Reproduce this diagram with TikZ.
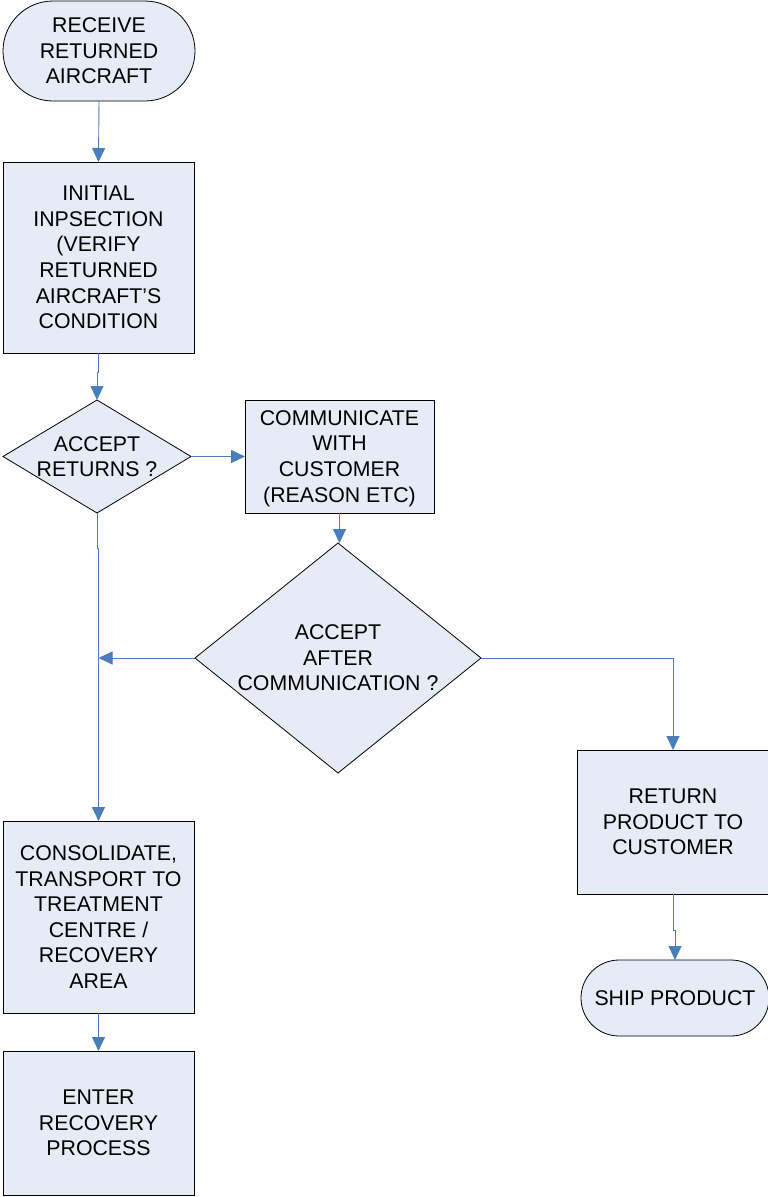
\documentclass[tikz,border=0pt]{standalone}
\usepackage{fontspec}
\setmainfont{Liberation Sans}
\usetikzlibrary{arrows.meta,shapes.geometric}
\definecolor{boxfill}{RGB}{230,236,246}
\definecolor{flowline}{RGB}{74,126,187}
\begin{document}
\begin{tikzpicture}[x=1pt,y=-1pt,
  shapebase/.style={draw=black,line width=0.8pt,fill=boxfill,inner sep=0pt,outer sep=0pt},
  stepbox/.style={shapebase,rectangle,minimum width=#1},
  terminal/.style={shapebase,rectangle,rounded corners=36pt},
  decision/.style={shapebase,diamond},
  label/.style={align=center,inner sep=0pt,font=\fontsize{21.3}{25.6}\selectfont},
  flow/.style={draw=flowline,line width=0.9pt,-{Triangle[length=14pt,width=13pt]}},
  plain/.style={draw=flowline,line width=0.9pt}]
\useasboundingbox (0,0) rectangle (768,1197);

% start terminator
\node[terminal,minimum width=192pt,minimum height=100pt,rounded corners=50pt] (start) at (99,51) {};
\node[label] at (start) {RECEIVE\\RETURNED\\AIRCRAFT};

% initial inspection
\node[stepbox=191pt,minimum height=191pt] (inspect) at (98.5,257.5) {};
\node[label] at (inspect) {INITIAL\\INPSECTION\\(VERIFY\\RETURNED\\AIRCRAFT’S\\CONDITION};

% first decision
\node[decision,minimum width=188pt,minimum height=113pt] (accept) at (97,456.5) {};
\node[label] at (accept) {ACCEPT\\RETURNS ?};

% communicate with customer
\node[stepbox=189pt,minimum height=113pt] (comm) at (339.5,456.5) {};
\node[label] at ([yshift=-2pt]comm.center) {COMMUNICATE\\WITH\\CUSTOMER\\(REASON ETC)};

% second decision
\node[decision,minimum width=286pt,minimum height=230pt] (after) at (338,658) {};
\node[label] at (after) {ACCEPT\\AFTER\\COMMUNICATION ?};

% consolidate
\node[stepbox=191pt,minimum height=192pt] (consol) at (98.5,917) {};
\node[label] at (consol) {CONSOLIDATE,\\TRANSPORT TO\\TREATMENT\\CENTRE /\\RECOVERY\\AREA};

% enter recovery
\node[stepbox=191pt,minimum height=144pt] (recov) at (98.5,1123) {};
\node[label] at (recov) {ENTER\\RECOVERY\\PROCESS};

% return product
\node[stepbox=192pt,minimum height=144pt] (retprod) at (673,822) {};
\node[label] at (retprod) {RETURN\\PRODUCT TO\\CUSTOMER};

% ship product terminator
\node[terminal,minimum width=188pt,minimum height=76pt,rounded corners=38pt] (ship) at (675,998) {};
\node[label] at (ship) {SHIP PRODUCT};

% connectors (small elbows where the centres are offset)
\coordinate (merge) at (98.5,658);
\draw[flow] (start.south) -- (inspect.north);
\draw[flow] (inspect.south) -- ++(0,19) -| (accept.north);
\draw[flow] (accept.east) -- (comm.west);
\draw[flow] (comm.south) -- (comm.south |- after.north);
\draw[flow] (accept.south) -- ++(0,35) -| (consol.north);
\draw[flow] (after.west) -- (merge);
\draw[flow] (after.east) -| (retprod.north);
\draw[flow] (retprod.south) -- ++(0,36) -| (ship.north);
\draw[flow] (consol.south) -- (recov.north);
\end{tikzpicture}
\end{document}
